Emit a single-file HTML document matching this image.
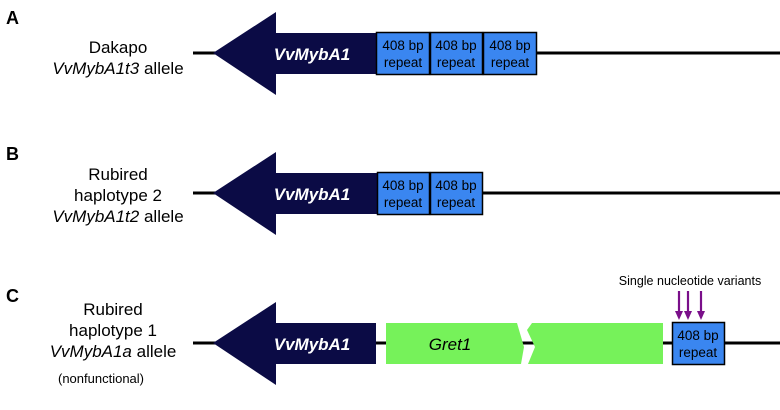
<!DOCTYPE html>
<html><head><meta charset="utf-8"><style>
body{margin:0;background:#fff}
svg{display:block}
text{font-family:"Liberation Sans",Arial,sans-serif}
</style></head><body>
<svg width="780" height="410" viewBox="0 0 780 410" xmlns="http://www.w3.org/2000/svg">
<!-- A -->
<text x="6" y="24" font-size="18" font-weight="bold">A</text>
<text x="118" y="53" font-size="17" text-anchor="middle">Dakapo</text>
<text x="118" y="74" font-size="17" text-anchor="middle"><tspan font-style="italic">VvMybA1t3</tspan> allele</text>
<line x1="193" y1="53" x2="780" y2="53" stroke="#000" stroke-width="3"/>
<polygon points="213,53 276,12 276,33 377,33 377,74 276,74 276,95" fill="#0b0b45"/>
<text x="312" y="60" font-size="17" font-weight="bold" font-style="italic" fill="#fff" text-anchor="middle">VvMybA1</text>
<g font-size="13.5" text-anchor="middle">
<rect x="376.5" y="32.5" width="53" height="42" fill="#3a86f0" stroke="#000" stroke-width="1.5"/>
<text x="403" y="50">408 bp</text><text x="403" y="67">repeat</text>
<rect x="430.5" y="32.5" width="52" height="42" fill="#3a86f0" stroke="#000" stroke-width="1.5"/>
<text x="456" y="50">408 bp</text><text x="456" y="67">repeat</text>
<rect x="483.5" y="32.5" width="53" height="42" fill="#3a86f0" stroke="#000" stroke-width="1.5"/>
<text x="510" y="50">408 bp</text><text x="510" y="67">repeat</text>
</g>
<!-- B -->
<text x="6" y="160" font-size="18" font-weight="bold">B</text>
<text x="118" y="180" font-size="17" text-anchor="middle">Rubired</text>
<text x="118" y="201" font-size="17" text-anchor="middle">haplotype  2</text>
<text x="118" y="222" font-size="17" text-anchor="middle"><tspan font-style="italic">VvMybA1t2</tspan> allele</text>
<line x1="193" y1="193" x2="780" y2="193" stroke="#000" stroke-width="3"/>
<polygon points="213,193 276,152 276,173 378,173 378,214 276,214 276,235" fill="#0b0b45"/>
<text x="312" y="200" font-size="17" font-weight="bold" font-style="italic" fill="#fff" text-anchor="middle">VvMybA1</text>
<g font-size="13.5" text-anchor="middle">
<rect x="377.5" y="172.5" width="52" height="42" fill="#3a86f0" stroke="#000" stroke-width="1.5"/>
<text x="403" y="190">408 bp</text><text x="403" y="207">repeat</text>
<rect x="430.5" y="172.5" width="52" height="42" fill="#3a86f0" stroke="#000" stroke-width="1.5"/>
<text x="456" y="190">408 bp</text><text x="456" y="207">repeat</text>
</g>
<!-- C -->
<text x="6" y="302" font-size="18" font-weight="bold">C</text>
<text x="113" y="315" font-size="17" text-anchor="middle">Rubired</text>
<text x="113" y="336" font-size="17" text-anchor="middle">haplotype  1</text>
<text x="113" y="357" font-size="17" text-anchor="middle"><tspan font-style="italic">VvMybA1a</tspan> allele</text>
<text x="101" y="383" font-size="13" text-anchor="middle">(nonfunctional)</text>
<line x1="193" y1="343" x2="780" y2="343" stroke="#000" stroke-width="3"/>
<polygon points="213,343 276,302 276,323 376,323 376,364 276,364 276,385" fill="#0b0b45"/>
<text x="312" y="350" font-size="17" font-weight="bold" font-style="italic" fill="#fff" text-anchor="middle">VvMybA1</text>
<polygon points="386,323 517,323 524,347 521,364 386,364" fill="#76f25a"/>
<polygon points="532,323 663,323 663,364 528,364 535,347 527,330" fill="#76f25a"/>
<text x="450" y="350" font-size="17" font-style="italic" text-anchor="middle">Gret1</text>
<rect x="672.5" y="322.5" width="52" height="42" fill="#3a86f0" stroke="#000" stroke-width="1.5"/>
<text x="698" y="340" font-size="13.5" text-anchor="middle">408 bp</text>
<text x="698" y="357" font-size="13.5" text-anchor="middle">repeat</text>
<text x="690" y="285" font-size="12.5" text-anchor="middle">Single nucleotide variants</text>
<g stroke="#7a0f8a" stroke-width="2.2">
<line x1="679" y1="291" x2="679" y2="312"/>
<line x1="688" y1="291" x2="688" y2="312"/>
<line x1="701" y1="291" x2="701" y2="312"/>
</g>
<g fill="#7a0f8a">
<polygon points="675,311 683,311 679,320"/>
<polygon points="684,311 692,311 688,320"/>
<polygon points="697,311 705,311 701,320"/>
</g>
</svg>
</body></html>
